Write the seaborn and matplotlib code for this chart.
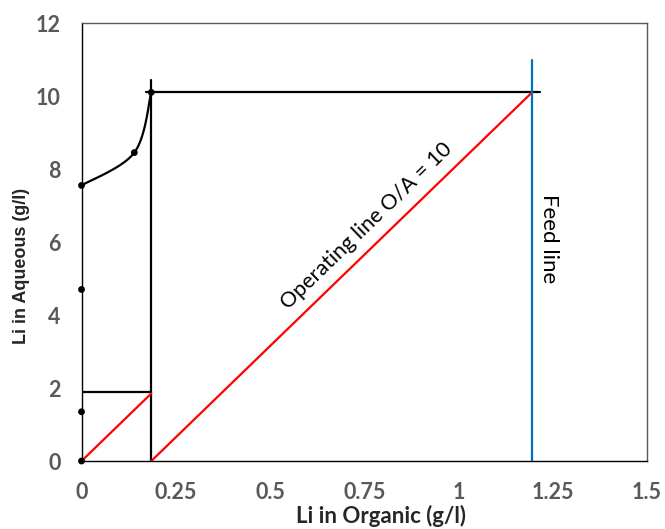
import numpy as np
import pandas as pd
import seaborn as sns
import matplotlib.pyplot as plt

# equilibrium isotherm points (Li in organic vs Li in aqueous, g/l)
eq_org = [0, 0, 0, 0, 0.14, 0.185]
eq_aq = [0, 1.35, 4.7, 7.55, 8.45, 10.1]
curve_from = 3  # points from here on are joined by the smoothed line

# operating lines (O/A = 10)
op1_org = [0, 0.185]
op1_aq = [0, 1.85]
op2_org = [0.185, 1.195]
op2_aq = [0, 10.1]

# McCabe-Thiele steps
step1_org = [0, 0.185]
step1_aq = [1.9, 1.9]
step2_org = [0.185, 0.185]
step2_aq = [0, 10.45]
step3_org = [0.17, 1.215]
step3_aq = [10.1, 10.1]

# feed line
feed_org = [1.195, 1.195]
feed_aq = [0, 11]

x_ticks = [0, 0.25, 0.5, 0.75, 1, 1.25, 1.5]
x_labels = ["0", "0.25", "0.5", "0.75", "1", "1.25", "1.5"]
y_ticks = [0, 2, 4, 6, 8, 10, 12]


def excel_smooth(xs, ys, sx, sy, n=40):
    # bezier smoothing like a spreadsheet "smoothed line", done in pixel scale
    p = np.column_stack([np.asarray(xs, float) * sx, np.asarray(ys, float) * sy])
    ext = np.vstack([p[0], p, p[-1]])
    segs = []
    t = np.linspace(0, 1, n)[:, None]
    for i in range(len(p) - 1):
        p0, p1, p2, p3 = ext[i], ext[i + 1], ext[i + 2], ext[i + 3]
        c1 = p1 + (p2 - p0) / 6
        c2 = p2 - (p3 - p1) / 6
        segs.append((1 - t) ** 3 * p1 + 3 * (1 - t) ** 2 * t * c1
                    + 3 * (1 - t) * t ** 2 * c2 + t ** 3 * p2)
    pts = np.vstack(segs)
    return pts[:, 0] / sx, pts[:, 1] / sy


sns.set_style("white")
plt.rcParams['font.family'] = ['Lato', 'DejaVu Sans']

fig = plt.figure(figsize=(6.65, 5.29), dpi=100)
ax = fig.add_axes([0.1226, 0.1285, 0.8504, 0.828])
ax.set_xlim(0, 1.5)
ax.set_ylim(0, 12)

# smoothed equilibrium curve
cx, cy = excel_smooth(eq_org[curve_from:], eq_aq[curve_from:], 377, 36.5)
sns.lineplot(x=cx, y=cy, sort=False, estimator=None, color="black", linewidth=1.6, ax=ax)

segments = [
    (step1_org, step1_aq, "black"),
    (step2_org, step2_aq, "black"),
    (step3_org, step3_aq, "black"),
    (op1_org, op1_aq, "#FF0000"),
    (op2_org, op2_aq, "#FF0000"),
    (feed_org, feed_aq, "#0070C0"),
]
for xs, ys, col in segments:
    sns.lineplot(x=xs, y=ys, sort=False, estimator=None, color=col, linewidth=1.6, ax=ax)

eq = pd.DataFrame({"org": eq_org, "aq": eq_aq})
sns.scatterplot(data=eq, x="org", y="aq", color="black", s=24, edgecolor="none",
                zorder=5, clip_on=False, ax=ax)

# annotations
p0 = ax.transData.transform((op2_org[0], op2_aq[0]))
p1 = ax.transData.transform((op2_org[1], op2_aq[1]))
angle = np.degrees(np.arctan2(p1[1] - p0[1], p1[0] - p0[0]))
ax.text(0.755, 6.45, "Operating line O/A = 10", rotation=angle, rotation_mode="anchor",
        ha="center", va="center", fontsize=15.5, color="black")
ax.text(1.24, 6.08, "Feed line", rotation=270, ha="center", va="center",
        fontsize=16, color="black")

ax.set_xticks(x_ticks)
ax.set_xticklabels(x_labels)
ax.set_yticks(y_ticks)
ax.tick_params(direction="in", length=5, width=0.8, color="#595959", pad=15,
               labelsize=15.5, labelcolor="#595959")
for lab in ax.get_xticklabels() + ax.get_yticklabels():
    lab.set_fontweight("bold")

for side in ["left", "bottom"]:
    ax.spines[side].set_color("black")
    ax.spines[side].set_linewidth(1.0)
for side in ["top", "right"]:
    ax.spines[side].set_color("#595959")
    ax.spines[side].set_linewidth(1.0)

ax.set_xlabel("Li in Organic (g/l)", fontsize=16, fontweight="bold", va="bottom")
ax.xaxis.set_label_coords(0.53, -0.1495)
ax.set_ylabel("Li in Aqueous (g/l)", fontsize=13, fontweight="bold",
              family=["Liberation Sans", "DejaVu Sans"], va="center")
ax.yaxis.set_label_coords(-0.107, 0.445)

fig.savefig("out.png", dpi=100)
